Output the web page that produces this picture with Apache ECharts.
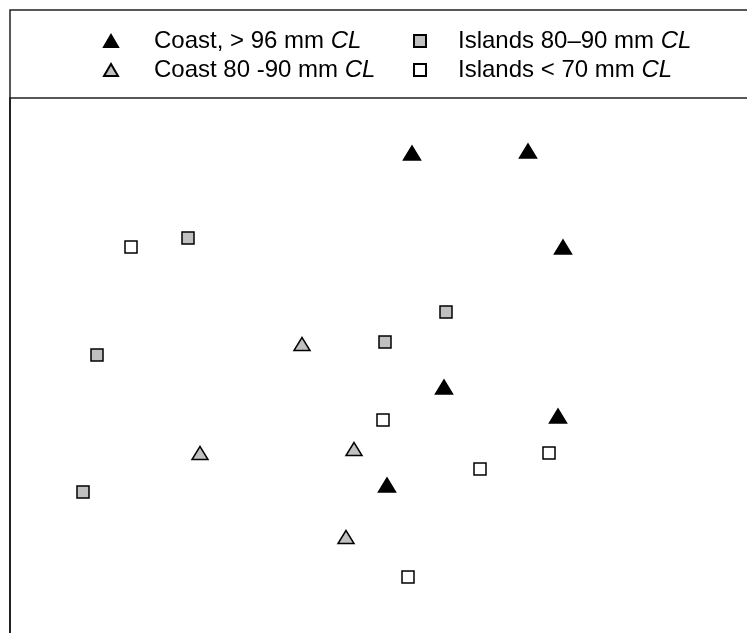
<!DOCTYPE html>
<html><head><meta charset="utf-8">
<script src="https://cdn.jsdelivr.net/npm/echarts@6/dist/echarts.min.js"></script>
<style>html,body{margin:0;padding:0;background:#fff}#c{width:747px;height:633px}</style>
</head><body><div id="c"></div>
<script>
// Series names (legend)
const seriesNames = ['Coast, > 96 mm CL', 'Coast 80 -90 mm CL', 'Islands 80\u201390 mm CL', 'Islands < 70 mm CL'];
// Point values (arbitrary ordination units)
const coastLarge = [[402,480],[518,482],[553,386],[434,246],[548,217],[377,148]];
const coastMid = [[292,289],[190,180],[344,184],[336,96]];
const islandsMid = [[178,395],[436,321],[375,291],[87,278],[73,141]];
const islandsSmall = [[121,386],[373,213],[470,164],[539,180],[398,56]];
const xRange = [0, 737];
const yRange = [0, 535];

const chart = echarts.init(document.getElementById('c'));
const FONT = 'Liberation Sans, Arial, sans-serif';
const fmtA = n => '{a|}{n|' + n.replace(/ CL$/, ' ') + '}{i|CL}';
const fmtB = n => '{b|}{n|' + n.replace(/ CL$/, ' ') + '}{i|CL}';
const legendText = {
  color: '#000', fontSize: 24, fontFamily: FONT,
  rich: {
    a: {width: 31, height: 24},
    b: {width: 27, height: 24},
    n: {fontSize: 24, lineHeight: 24, fontFamily: FONT, color: '#000'},
    i: {fontSize: 24, lineHeight: 24, fontStyle: 'italic', fontFamily: FONT, color: '#000'}
  }
};
const mk = (fill) => ({color: fill, borderColor: '#000', borderWidth: 1.5, opacity: 1});
const legendBase = {
  orient: 'vertical', top: 29, itemGap: 5, padding: 0,
  textStyle: legendText, selectedMode: false
};
chart.setOption({
  animation: false,
  backgroundColor: '#fff',
  graphic: [{
    type: 'rect', shape: {x: 10, y: 10, width: 760, height: 88},
    style: {fill: 'none', stroke: '#222', lineWidth: 1.5}, silent: true
  }],
  legend: [
    Object.assign({}, legendBase, {data: [seriesNames[0], seriesNames[1]], left: 103, itemWidth: 14, itemHeight: 12, formatter: fmtA}),
    Object.assign({}, legendBase, {data: [seriesNames[2], seriesNames[3]], left: 413, itemWidth: 12, itemHeight: 12, formatter: fmtB})
  ],
  grid: {left: 10, top: 98, right: 0, bottom: 0},
  xAxis: {type: 'value', min: xRange[0], max: xRange[1], show: false},
  yAxis: {type: 'value', min: yRange[0], max: yRange[1],
    axisLine: {show: true, lineStyle: {color: '#222', width: 2}},
    axisTick: {show: false}, axisLabel: {show: false}, splitLine: {show: false}},
  series: [
    {name: seriesNames[0], type: 'scatter', data: coastLarge, symbol: 'triangle', symbolSize: [17,14], itemStyle: mk('#000')},
    {name: seriesNames[1], type: 'scatter', data: coastMid, symbol: 'triangle', symbolSize: [16,13], itemStyle: mk('#c0c0c0')},
    {name: seriesNames[2], type: 'scatter', data: islandsMid, symbol: 'rect', symbolSize: 12, itemStyle: mk('#c0c0c0')},
    {name: seriesNames[3], type: 'scatter', data: islandsSmall, symbol: 'rect', symbolSize: 12, itemStyle: mk('#fff')}
  ]
});
</script></body></html>
